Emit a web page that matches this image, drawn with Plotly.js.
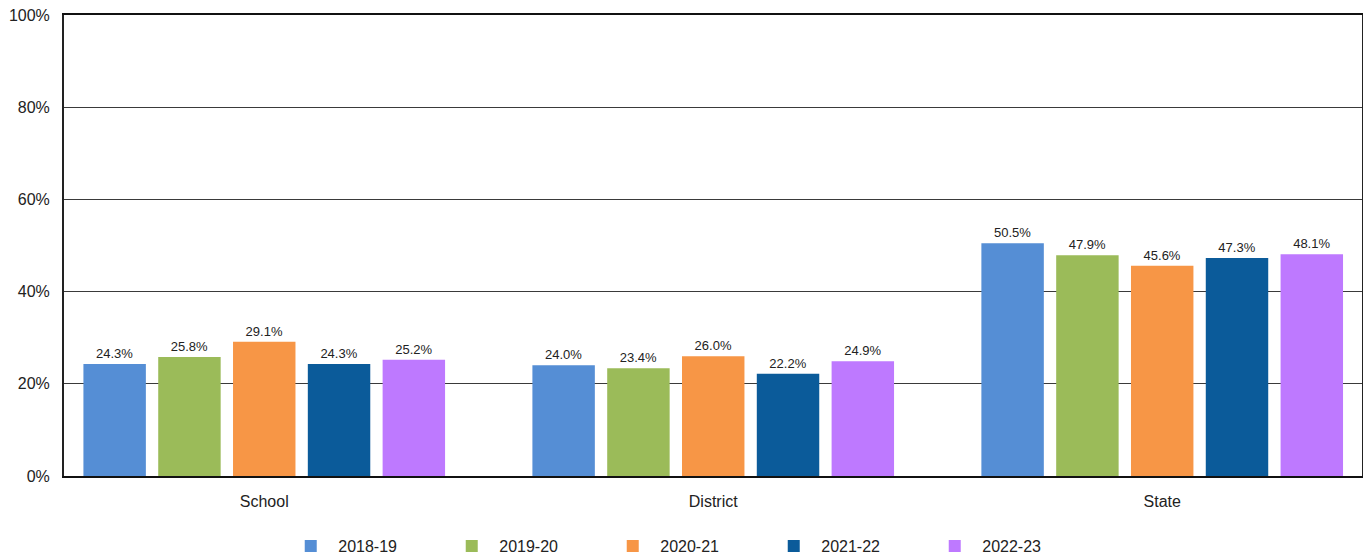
<!DOCTYPE html>
<html>
<head>
<meta charset="utf-8">
<script src="https://cdn.plot.ly/plotly-3.0.1.min.js"></script>
<style>html,body{margin:0;padding:0;background:#fff;}#chart{width:1363px;height:554px;}</style>
</head>
<body>
<div id="chart"></div>
<script>
const categories = ["School", "District", "State"];
const seriesNames = ["2018-19", "2019-20", "2020-21", "2021-22", "2022-23"];
const v2018_19 = [24.3, 24.0, 50.5];
const v2019_20 = [25.8, 23.4, 47.9];
const v2020_21 = [29.1, 26.0, 45.6];
const v2021_22 = [24.3, 22.2, 47.3];
const v2022_23 = [25.2, 24.9, 48.1];
const seriesValues = [v2018_19, v2019_20, v2020_21, v2021_22, v2022_23];
const colors = ["#558ED5", "#9BBB59", "#F79646", "#0B5B9A", "#BE79FF"];
const yTickVals = [0, 20, 40, 60, 80, 100];
const yTickText = ["0%", "20%", "40%", "60%", "80%", "100%"];

const FONT = "Liberation Sans, Arial, sans-serif";

const traces = seriesNames.map((name, i) => ({
  type: "bar",
  name: name,
  x: categories,
  y: seriesValues[i],
  marker: { color: colors[i], line: { width: 0 } },
  texttemplate: "%{y:.1f}%",
  textposition: "outside",
  constraintext: "none",
  textfont: { family: FONT, size: 13, color: "#222" },
  cliponaxis: false,
  hoverinfo: "skip"
}));

const layout = {
  width: 1363,
  height: 554,
  margin: { l: 64, r: 1, t: 15, b: 78, pad: 0, autoexpand: false },
  paper_bgcolor: "#fff",
  plot_bgcolor: "#fff",
  font: { family: FONT, size: 16, color: "#222" },
  barmode: "group",
  bargap: 0.167,
  bargroupgap: 0.165,
  showlegend: true,
  legend: {
    orientation: "h",
    x: 0.479,
    xanchor: "center",
    y: -0.115,
    yanchor: "top",
    font: { family: FONT, size: 16, color: "#222" },
    itemwidth: 45,
    entrywidth: 101,
    entrywidthmode: "pixels",
    traceorder: "normal",
    bgcolor: "rgba(0,0,0,0)"
  },
  xaxis: {
    type: "category",
    range: [-0.446, 2.445],
    showgrid: false,
    showline: true,
    linecolor: "#111",
    linewidth: 2,
    mirror: true,
    ticks: "",
    ticklabelstandoff: 10,
    tickfont: { family: FONT, size: 16, color: "#222" },
    fixedrange: true
  },
  yaxis: {
    range: [0, 100],
    tickvals: yTickVals,
    ticktext: yTickText,
    showgrid: true,
    gridcolor: "#3a3a3a",
    gridwidth: 1,
    showline: true,
    linecolor: "#222",
    linewidth: 2,
    mirror: true,
    zeroline: false,
    ticks: "",
    ticklabelstandoff: 9,
    tickfont: { family: FONT, size: 16, color: "#222" },
    fixedrange: true
  }
};

Plotly.newPlot("chart", traces, layout, { displayModeBar: false, staticPlot: true });
</script>
</body>
</html>
